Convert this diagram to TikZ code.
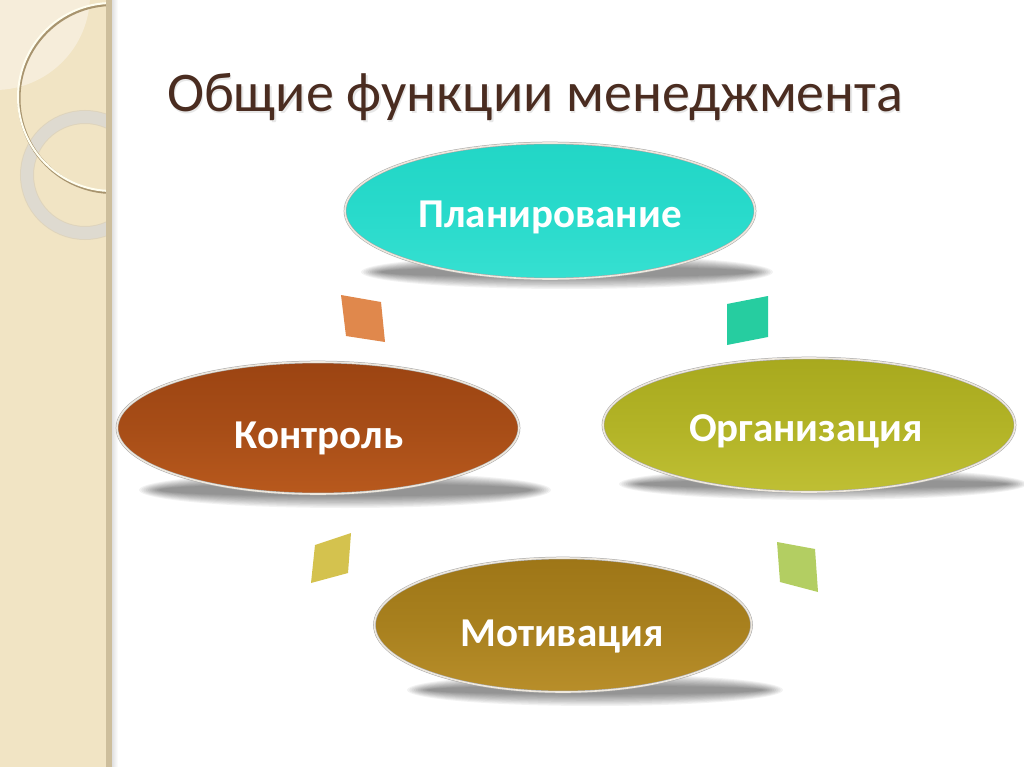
\documentclass[tikz,border=0pt]{standalone}
\usepackage{fontspec}
\setmainfont{Carlito}
\usetikzlibrary{shapes.geometric}
\definecolor{stripbg}{HTML}{F1E4C4}
\definecolor{striplight}{HTML}{F6EDDA}
\definecolor{stripedge}{HTML}{CDBE9C}
\definecolor{ringgray}{HTML}{DEDAD0}
\definecolor{ringshadow}{HTML}{A8946E}
\definecolor{titlecol}{HTML}{4A2C20}
\definecolor{tealT}{HTML}{22D6C6}\definecolor{tealM}{HTML}{28DACB}\definecolor{tealB}{HTML}{36E0D1}
\definecolor{brnT}{HTML}{9C4412}\definecolor{brnM}{HTML}{A74D17}\definecolor{brnB}{HTML}{B8591D}
\definecolor{oliT}{HTML}{A8A91E}\definecolor{oliM}{HTML}{B2B326}\definecolor{oliB}{HTML}{BFBF34}
\definecolor{golT}{HTML}{9E7617}\definecolor{golM}{HTML}{A8801E}\definecolor{golB}{HTML}{B88E2A}
\definecolor{dOrange}{HTML}{E0884C}
\definecolor{dTeal}{HTML}{26CDA0}
\definecolor{dYellow}{HTML}{D4C24E}
\definecolor{dGreen}{HTML}{B3CE62}
\definecolor{rim}{HTML}{EEE8DE}
\tikzset{
  oval/.style={ellipse, inner sep=0pt, draw=gray!70, double=rim, double distance=1.6pt, line width=0.5pt},
  lbl/.style={text=white, font=\bfseries\fontsize{41}{46}\selectfont, anchor=base, inner sep=0pt},
}
\newcommand{\softshadow}[4]{%
  \foreach \k in {0,...,9}{%
    \fill[black, opacity=0.05] (#1,#2) ellipse [x radius={#3pt-\k*2.2pt}, y radius={#4pt-\k*1.3pt}];
  }}
\begin{document}
\begin{tikzpicture}[x=1pt,y=-1pt]
\useasboundingbox (0,0) rectangle (1024,767);
\fill[white] (0,0) rectangle (1024,767);
% left decorative strip
\fill[stripbg] (0,0) rectangle (107,767);
\begin{scope}
  \clip (0,0) rectangle (107,767);
  \fill[striplight] (-5,-5) circle (95pt);
  \draw[ringgray!85!black, line width=14pt, opacity=0.35] (85,175) circle (58pt);
  \draw[ringgray, line width=12pt] (85,175) circle (58pt);
  \draw[ringshadow, line width=3pt] (113,98.5) circle (94pt);
  \draw[white!94!yellow, line width=2pt] (112,97) circle (94pt);
\end{scope}
\fill[stripedge] (106,0) rectangle (112,767);
\shade[left color=black!12, right color=white] (112,0) rectangle (118,767);

% title
\node[text=black!30, opacity=0.3, font=\fontsize{56}{64}\selectfont, anchor=base, inner sep=0pt] (titleshadow) at (536.5,114) {Общие функции менеджмента};
\node[text=titlecol, font=\fontsize{56}{64}\selectfont, anchor=base, inner sep=0pt] (title) at (535,112) {Общие функции менеджмента};

% connector parallelograms
\fill[dOrange] (341,295) -- (381,302) -- (385,342) -- (346,336) -- cycle;
\fill[dTeal] (727,304) -- (768,296) -- (768,337) -- (727,345) -- cycle;
\fill[dYellow] (315,545) -- (351,533) -- (348,573) -- (311,583) -- cycle;
\fill[dGreen] (777,542) -- (815,549) -- (818,592) -- (780,582) -- cycle;

% shadows
\softshadow{567}{272}{206}{17}
\softshadow{345}{490}{206}{18}
\softshadow{823}{484}{204}{16}
\softshadow{595}{690}{188}{16}

% ovals
\node[oval, minimum width=410pt, minimum height=136pt, top color=tealT, bottom color=tealB, middle color=tealM] (plan) at (550,211) {};
\node[oval, minimum width=402pt, minimum height=132pt, top color=brnT, bottom color=brnB, middle color=brnM] (ctrl) at (318,428) {};
\node[oval, minimum width=412pt, minimum height=134pt, top color=oliT, bottom color=oliB, middle color=oliM] (org) at (809,425) {};
\node[oval, minimum width=377pt, minimum height=134pt, top color=golT, bottom color=golB, middle color=golM] (motiv) at (563,625) {};

% labels
\node[lbl] (tplan) at (550,228) {Планирование};
\node[lbl] (tctrl) at (319,448) {Контроль};
\node[lbl] (torg) at (806,441) {Организация};
\node[lbl] (tmotiv) at (562,646) {Мотивация};
\end{tikzpicture}
\end{document}
